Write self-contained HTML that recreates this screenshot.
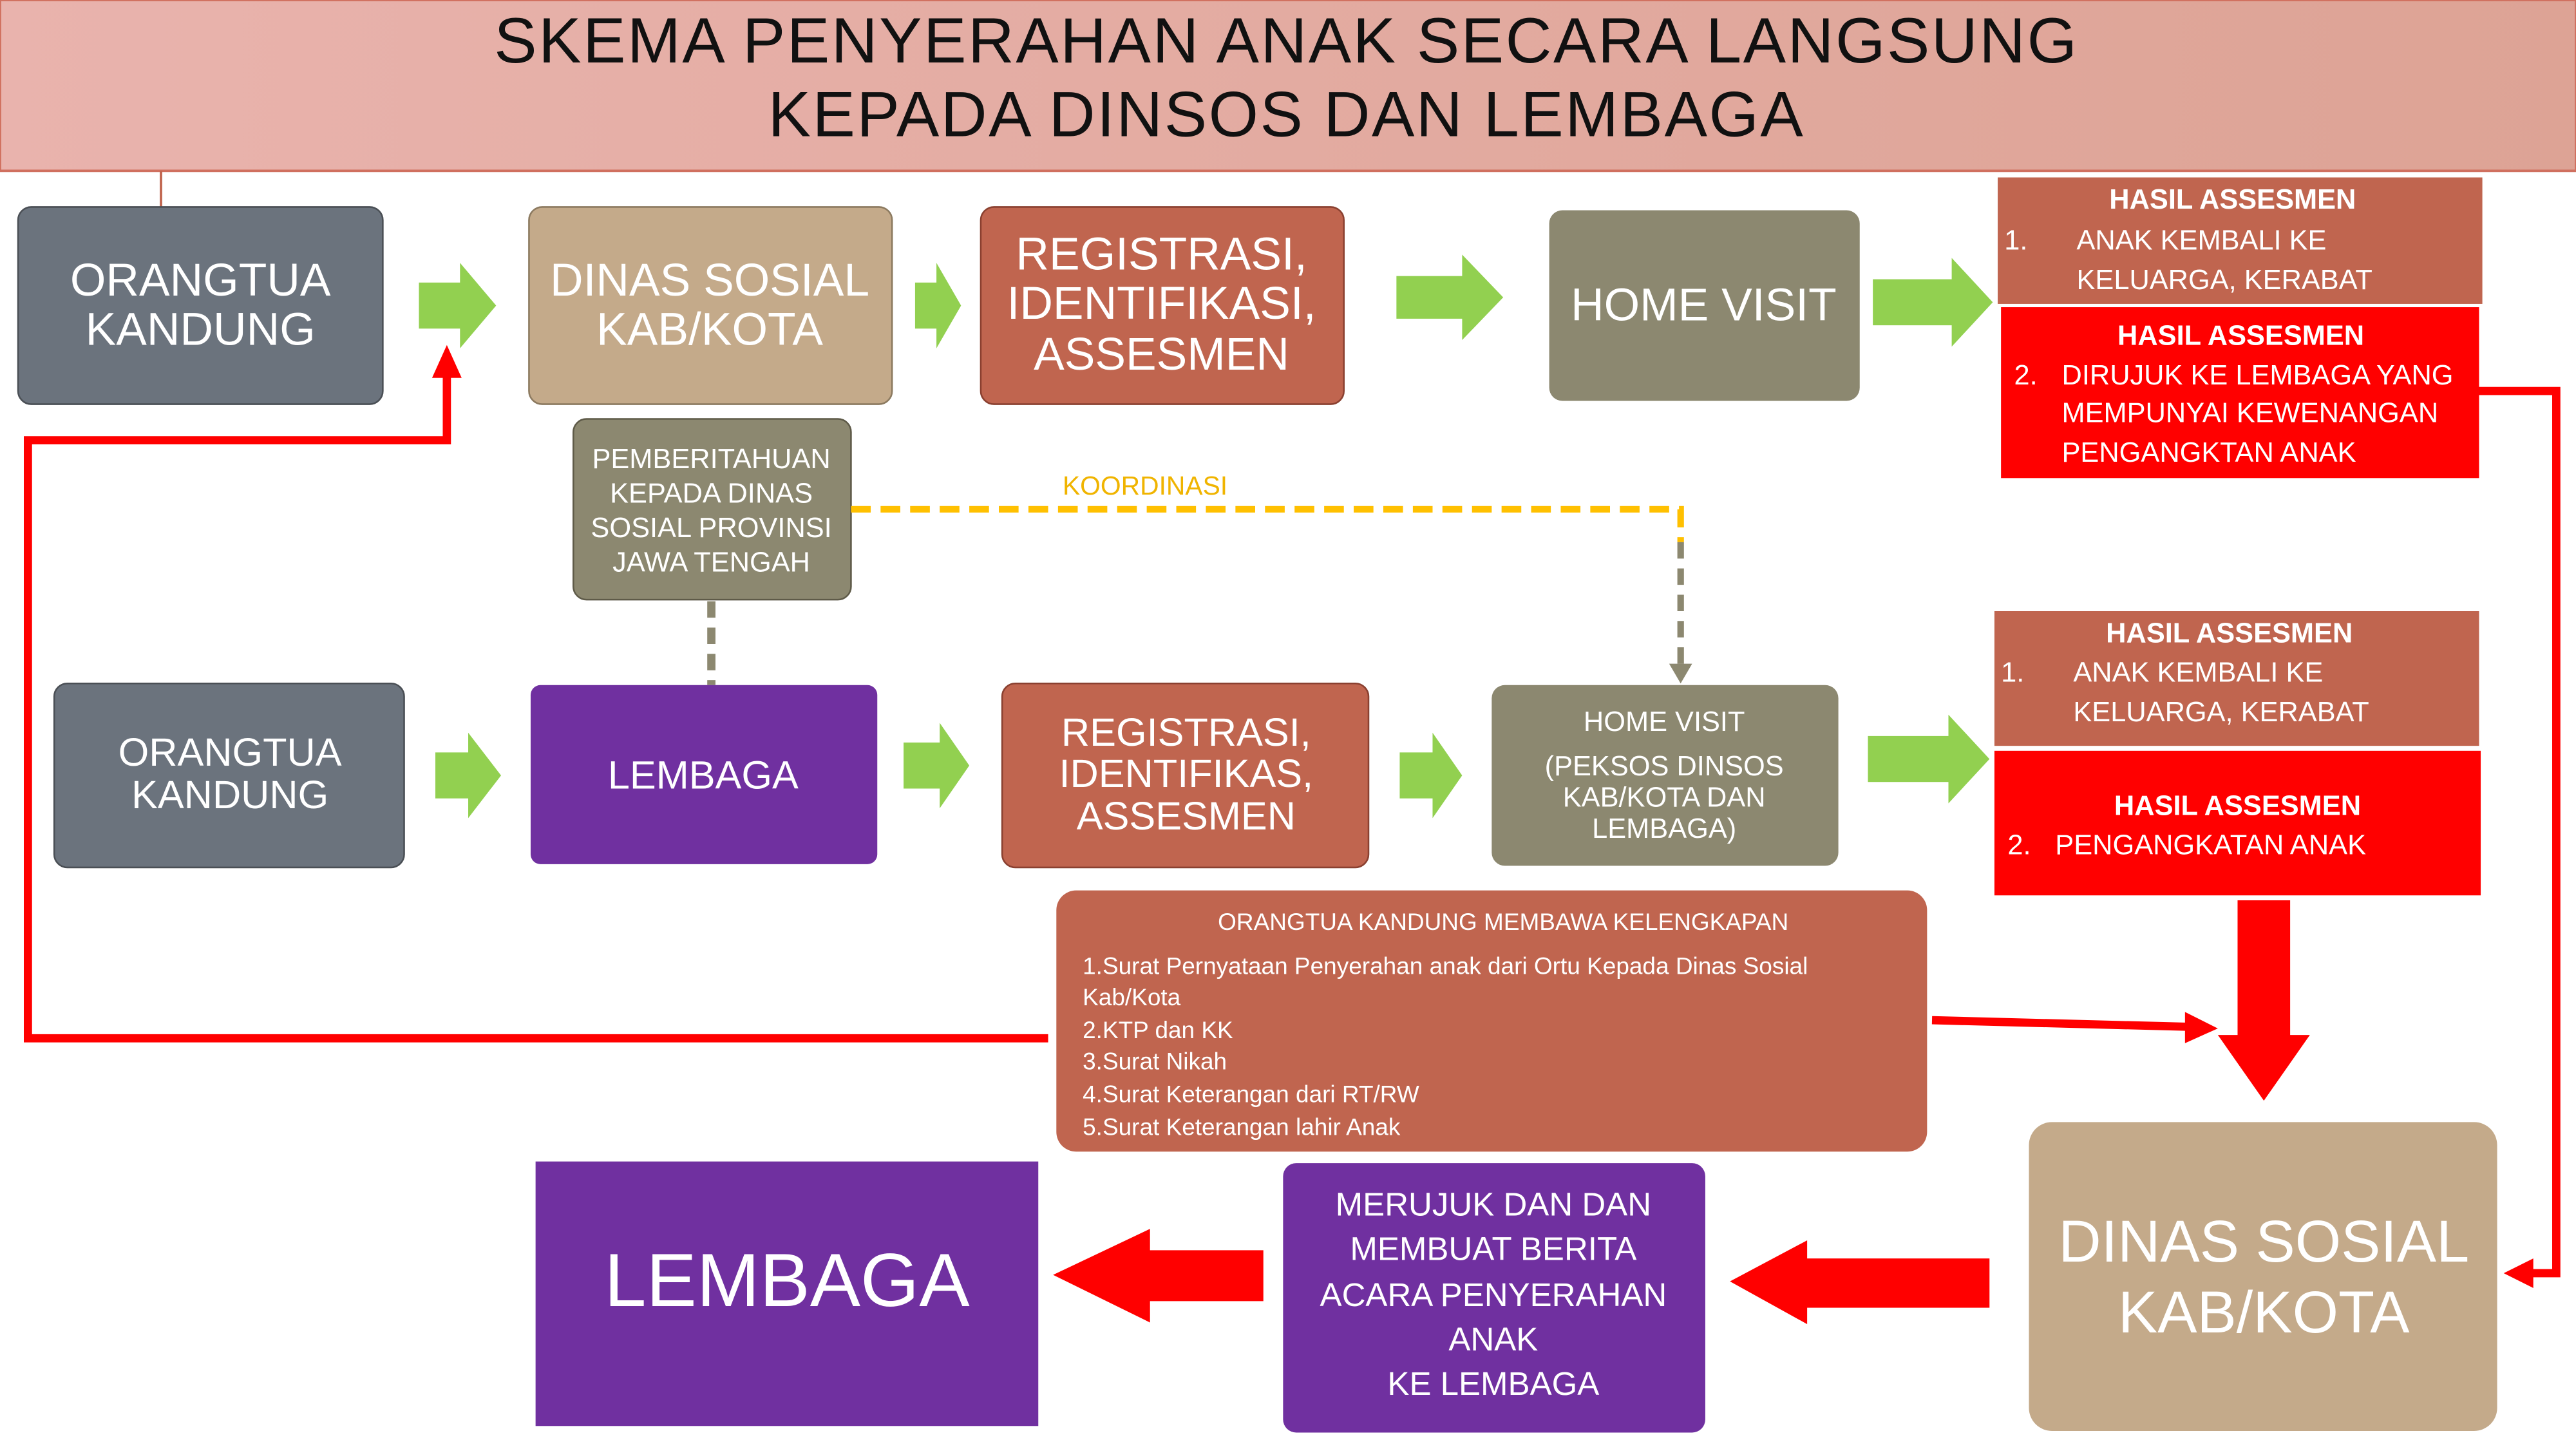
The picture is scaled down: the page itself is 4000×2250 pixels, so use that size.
<!DOCTYPE html>
<html><head><meta charset="utf-8"><style>html,body{margin:0;padding:0;background:#fff}svg{display:block}text{font-family:"Liberation Sans",sans-serif}</style></head><body>
<svg width="4000" height="2250" viewBox="0 0 1568 882" xmlns="http://www.w3.org/2000/svg">
<defs><linearGradient id="tg" x1="0" x2="1" y1="0" y2="0"><stop offset="0" stop-color="#e9b3ad"/><stop offset="1" stop-color="#dda395"/></linearGradient></defs>
<rect x="0" y="0" width="1568" height="104" fill="url(#tg)" stroke="#d0705f" stroke-width="1.5"/>
<text x="783" y="38" font-size="39" text-anchor="middle" fill="#111" letter-spacing="1">SKEMA PENYERAHAN ANAK SECARA LANGSUNG</text>
<text x="783" y="83" font-size="39" text-anchor="middle" fill="#111" letter-spacing="1">KEPADA DINSOS DAN LEMBAGA</text>
<line x1="98" y1="104" x2="98" y2="126" stroke="#c0654f" stroke-width="1.5"/>

<g fill="#92d050">
<polygon points="255,172 280,172 280,160 302,186 280,212 280,200 255,200"/>
<polygon points="557,172 570,172 570,160 585,186 570,212 570,200 557,200"/>
<polygon points="850,168 890,168 890,155 915,181 890,207 890,194 850,194"/>
<polygon points="1140,170 1188,170 1188,157 1213,184 1188,211 1188,198 1140,198"/>
<polygon points="265,458 285,458 285,446 305,472 285,498 285,486 265,486"/>
<polygon points="550,452 572,452 572,440 590,466 572,492 572,480 550,480"/>
<polygon points="852,458 872,458 872,446 890,472 872,498 872,486 852,486"/>
<polygon points="1137,448 1186,448 1186,435 1211,462 1186,489 1186,476 1137,476"/>
</g>

<g font-size="28" fill="#fff" text-anchor="middle">
<rect x="11" y="126" width="222" height="120" rx="8" fill="#6b737d" stroke="#4a4f55"/>
<text x="122" y="180">ORANGTUA</text><text x="122" y="210">KANDUNG</text>
<rect x="322" y="126" width="221" height="120" rx="8" fill="#c4aa8a" stroke="#8c7a60"/>
<text x="432" y="180">DINAS SOSIAL</text><text x="432" y="210">KAB/KOTA</text>
<rect x="597" y="126" width="221" height="120" rx="8" fill="#c0654f" stroke="#8a4030"/>
<text x="707" y="164">REGISTRASI,</text><text x="707" y="194">IDENTIFIKASI,</text><text x="707" y="225">ASSESMEN</text>
<rect x="943" y="128" width="189" height="116" rx="8" fill="#8c8870"/>
<text x="1037" y="195">HOME VISIT</text>
</g>

<rect x="1216" y="108" width="295" height="77" fill="#c0654f"/>
<g fill="#fff" font-size="17">
<text x="1359" y="127" text-anchor="middle" font-weight="bold">HASIL ASSESMEN</text>
<text x="1220" y="152">1.</text><text x="1264" y="152">ANAK KEMBALI KE</text><text x="1264" y="176">KELUARGA, KERABAT</text>
</g>
<rect x="1218" y="187" width="291" height="104" fill="#ff0000"/>
<g fill="#fff" font-size="17">
<text x="1364" y="210" text-anchor="middle" font-weight="bold">HASIL ASSESMEN</text>
<text x="1226" y="234">2.</text><text x="1255" y="234">DIRUJUK KE LEMBAGA YANG</text>
<text x="1255" y="257">MEMPUNYAI KEWENANGAN</text><text x="1255" y="281">PENGANGKTAN ANAK</text>
</g>

<rect x="349" y="255" width="169" height="110" rx="8" fill="#8c8870" stroke="#5e5a48"/>
<g fill="#fff" font-size="17" text-anchor="middle">
<text x="433" y="285">PEMBERITAHUAN</text><text x="433" y="306">KEPADA DINAS</text><text x="433" y="327">SOSIAL PROVINSI</text><text x="433" y="348">JAWA TENGAH</text>
</g>
<line x1="433" y1="366" x2="433" y2="417" stroke="#8c8870" stroke-width="5" stroke-dasharray="10,6"/>
<polyline points="518,310 1023,310 1023,330" fill="none" stroke="#ffc000" stroke-width="4" stroke-dasharray="12,6"/>
<line x1="1023" y1="330" x2="1023" y2="405" stroke="#8c8870" stroke-width="4" stroke-dasharray="10,6"/>
<polygon points="1016,404 1030,404 1023,416" fill="#8c8870"/>
<text x="697" y="301" font-size="16" fill="#f0b400" text-anchor="middle">KOORDINASI</text>

<polyline points="638,632 17,632 17,268 272,268 272,226" fill="none" stroke="#ff0000" stroke-width="5"/>
<polygon points="263,230 281,230 272,210" fill="#ff0000"/>

<g font-size="24" fill="#fff" text-anchor="middle">
<rect x="33" y="416" width="213" height="112" rx="8" fill="#6b737d" stroke="#4a4f55"/>
<text x="140" y="466">ORANGTUA</text><text x="140" y="492">KANDUNG</text>
<rect x="323" y="417" width="211" height="109" rx="6" fill="#7030a0"/>
<text x="428" y="480">LEMBAGA</text>
<rect x="610" y="416" width="223" height="112" rx="8" fill="#c0654f" stroke="#8a4030"/>
<text x="722" y="454">REGISTRASI,</text><text x="722" y="479">IDENTIFIKAS,</text><text x="722" y="505">ASSESMEN</text>
</g>
<rect x="908" y="417" width="211" height="110" rx="8" fill="#8c8870"/>
<g font-size="17" fill="#fff" text-anchor="middle">
<text x="1013" y="445">HOME VISIT</text><text x="1013" y="472">(PEKSOS DINSOS</text><text x="1013" y="491">KAB/KOTA DAN</text><text x="1013" y="510">LEMBAGA)</text>
</g>

<rect x="1214" y="372" width="295" height="82" fill="#c0654f"/>
<g fill="#fff" font-size="17">
<text x="1357" y="391" text-anchor="middle" font-weight="bold">HASIL ASSESMEN</text>
<text x="1218" y="415">1.</text><text x="1262" y="415">ANAK KEMBALI KE</text><text x="1262" y="439">KELUARGA, KERABAT</text>
</g>
<rect x="1214" y="457" width="296" height="88" fill="#ff0000"/>
<g fill="#fff" font-size="17">
<text x="1362" y="496" text-anchor="middle" font-weight="bold">HASIL ASSESMEN</text>
<text x="1222" y="520">2.</text><text x="1251" y="520">PENGANGKATAN ANAK</text>
</g>

<rect x="643" y="542" width="530" height="159" rx="12" fill="#c0654f"/>
<g fill="#fff" font-size="14.5">
<text x="915" y="566" text-anchor="middle">ORANGTUA KANDUNG MEMBAWA KELENGKAPAN</text>
<text x="659" y="593">1.Surat Pernyataan Penyerahan anak dari Ortu Kepada Dinas Sosial</text>
<text x="659" y="612">Kab/Kota</text><text x="659" y="632">2.KTP dan KK</text><text x="659" y="651">3.Surat Nikah</text>
<text x="659" y="671">4.Surat Keterangan dari RT/RW</text><text x="659" y="691">5.Surat Keterangan lahir Anak</text>
</g>

<line x1="1176" y1="621" x2="1332" y2="625" stroke="#ff0000" stroke-width="5"/>
<polygon points="1330,616 1350,626 1330,635" fill="#ff0000"/>
<polygon points="1362,548 1394,548 1394,630 1406,630 1378,670 1350,630 1362,630" fill="#ff0000"/>
<polyline points="1509,238 1556,238 1556,775 1540,775" fill="none" stroke="#ff0000" stroke-width="5"/>
<polygon points="1542,766 1542,784 1524,775" fill="#ff0000"/>

<rect x="1235" y="683" width="285" height="188" rx="14" fill="#c4aa8a"/>
<text x="1378" y="768" font-size="36" fill="#fff" text-anchor="middle">DINAS SOSIAL</text>
<text x="1378" y="811" font-size="36" fill="#fff" text-anchor="middle">KAB/KOTA</text>

<polygon points="1211,766 1100,766 1100,755 1053,780 1100,806 1100,796 1211,796" fill="#ff0000"/>
<rect x="781" y="708" width="257" height="164" rx="8" fill="#7030a0"/>
<g font-size="20" fill="#fff" text-anchor="middle">
<text x="909" y="740">MERUJUK DAN DAN</text><text x="909" y="767">MEMBUAT BERITA</text><text x="909" y="795">ACARA PENYERAHAN</text><text x="909" y="822">ANAK</text><text x="909" y="849">KE LEMBAGA</text>
</g>
<polygon points="769,761 700,761 700,748 641,776 700,805 700,792 769,792" fill="#ff0000"/>
<rect x="326" y="707" width="306" height="161" fill="#7030a0"/>
<text x="479" y="795" font-size="46" fill="#fff" text-anchor="middle">LEMBAGA</text>
</svg>
</body></html>
